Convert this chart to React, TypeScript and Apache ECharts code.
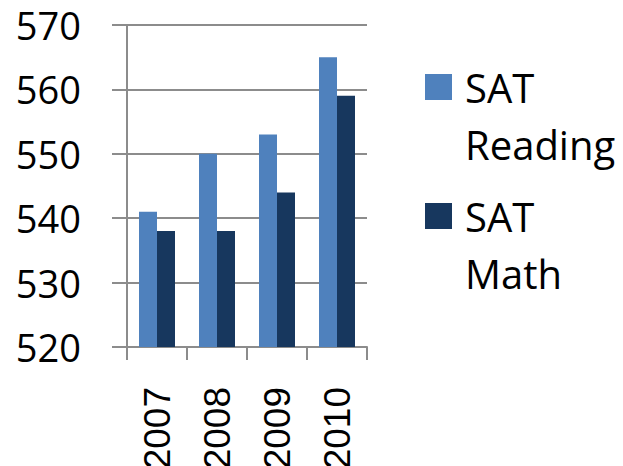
import React, { useEffect, useRef } from "react";
import * as echarts from "echarts";

const years = ["2007", "2008", "2009", "2010"];
const seriesNames = ["SAT Reading", "SAT Math"];
const readingScores = [541, 550, 553, 565];
const mathScores = [538, 538, 544, 559];
const seriesColors = ["#4f81bd", "#17375e"];
const yMin = 520;
const yMax = 570;
const yStep = 10;

export default function App() {
  const ref = useRef<HTMLDivElement>(null);
  useEffect(() => {
    if (!ref.current) return;
    const chart = echarts.init(ref.current, null, { renderer: "svg" });
    const legendGraphics: any[] = [];
    seriesNames.forEach((name, i) => {
      const top = 59 + i * 129;
      legendGraphics.push({
        type: "rect",
        shape: { x: 425, y: top + 15, width: 27, height: 26 },
        style: { fill: seriesColors[i] },
      });
      legendGraphics.push({
        type: "text",
        x: 465,
        y: top,
        style: {
          text: name.replace(" ", "\n"),
          font: '40px "Open Sans"',
          lineHeight: 57,
          fill: "#000",
          verticalAlign: "top",
          align: "left",
        },
      });
    });
    chart.setOption({
      animation: false,
      backgroundColor: "#fff",
      grid: {
        left: 127,
        right: 256,
        top: 25,
        bottom: 119,
        containLabel: false,
        outerBoundsMode: "none",
      },
      xAxis: {
        type: "category",
        data: years,
        axisLine: { show: true, lineStyle: { color: "#8c8c8c", width: 2 } },
        axisTick: {
          show: true,
          length: 13,
          alignWithLabel: false,
          lineStyle: { color: "#8c8c8c", width: 2 },
        },
        axisLabel: {
          rotate: 90,
          margin: 40,
          color: "#000",
          fontFamily: "Liberation Sans",
          fontSize: 37,
        },
      },
      yAxis: {
        type: "value",
        min: yMin,
        max: yMax,
        interval: yStep,
        axisLine: { show: true, lineStyle: { color: "#8c8c8c", width: 2 } },
        axisTick: { show: true, length: 15, lineStyle: { color: "#8c8c8c", width: 2 } },
        splitLine: { show: true, lineStyle: { color: "#8c8c8c", width: 2 } },
        axisLabel: {
          margin: 46,
          color: "#000",
          fontFamily: "Open Sans",
          fontSize: 38,
        },
      },
      series: [
        {
          name: seriesNames[0],
          type: "bar",
          data: readingScores,
          barWidth: 18,
          barGap: "0%",
          itemStyle: { color: seriesColors[0] },
        },
        {
          name: seriesNames[1],
          type: "bar",
          data: mathScores,
          barWidth: 18,
          barGap: "0%",
          itemStyle: { color: seriesColors[1] },
        },
      ],
      graphic: legendGraphics,
    });
    return () => chart.dispose();
  }, []);
  return (
    <div
      ref={ref}
      style={{ position: "fixed", left: 0, top: 0, width: 623, height: 466 }}
    />
  );
}
